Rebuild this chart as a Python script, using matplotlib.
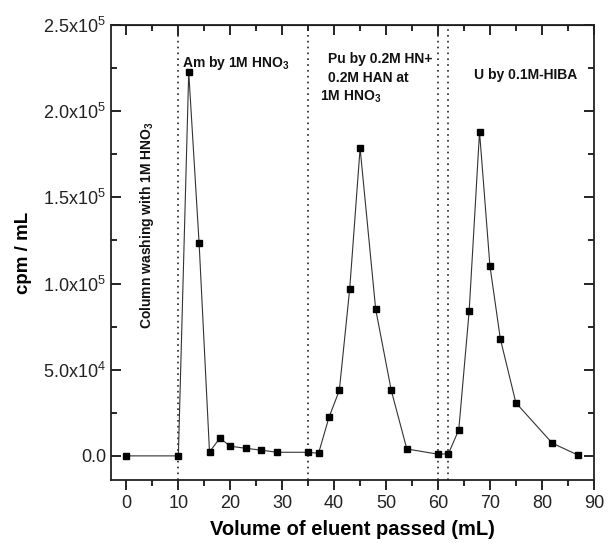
import matplotlib
matplotlib.use("Agg")
import matplotlib.pyplot as plt
from matplotlib.ticker import MultipleLocator, FuncFormatter

plt.rcParams['font.family'] = ['Liberation Sans', 'DejaVu Sans']
plt.rcParams['mathtext.default'] = 'regular'

# eluent volume (mL) and activity (cpm/mL)
volume = [0, 10, 12, 14, 16, 18, 20, 23, 26, 29, 35, 37, 39, 41, 43, 45, 48, 51, 54,
          60, 62, 64, 66, 68, 70, 72, 75, 82, 87]
cpm = [0, 0, 222700, 123300, 2300, 10300, 5600, 4400, 3300, 2100, 2100, 1500, 22300,
       38000, 96900, 178500, 85100, 38000, 4000, 1000, 1200, 15100, 83900, 188000,
       110300, 68000, 30800, 7400, 400]

# stage boundaries
boundaries = [10, 35, 60, 62]

fig = plt.figure(figsize=(6.09, 5.43), dpi=100)
ax = fig.add_axes([0.182, 0.116, 0.793, 0.838])

for b in boundaries:
    ax.axvline(b, color='#222222', linestyle=(0, (1, 2.5)), linewidth=1.2, zorder=1)

ax.plot(volume, cpm, color='#333333', linewidth=0.8, marker='s', markersize=4.5,
        markerfacecolor='black', markeredgecolor='black', zorder=3)

ax.set_xlim(-3, 90)
ax.set_ylim(-14000, 250000)

ax.xaxis.set_major_locator(MultipleLocator(10))
ax.xaxis.set_minor_locator(MultipleLocator(5))
ax.yaxis.set_major_locator(MultipleLocator(50000))
ax.yaxis.set_minor_locator(MultipleLocator(25000))


def yfmt(v, pos):
    if v == 0:
        return '0.0'
    exp = len(str(int(abs(v)))) - 1
    return '%.1fx10$^{%d}$' % (v / 10 ** exp, exp)


ax.yaxis.set_major_formatter(FuncFormatter(yfmt))

ax.tick_params(axis='both', which='both', top=True, right=True, labelsize=13,
               labelcolor='#222222', width=1.2)
ax.tick_params(axis='x', which='both', direction='out', top=False)
ax.tick_params(axis='y', which='both', direction='in')
ax.tick_params(which='major', length=7)
ax.tick_params(which='minor', length=4)
# top ticks point inward
ax2 = ax.secondary_xaxis('top')
ax2.xaxis.set_major_locator(MultipleLocator(10))
ax2.xaxis.set_minor_locator(MultipleLocator(5))
ax2.tick_params(which='both', direction='in', labeltop=False, width=1.2)
ax2.tick_params(which='major', length=7)
ax2.tick_params(which='minor', length=4)

for s in ax.spines.values():
    s.set_linewidth(1.3)
    s.set_color('#222222')

ax.set_xlabel('Volume of eluent passed (mL)', fontsize=14.5, fontweight='bold', labelpad=6)
ax.set_ylabel('cpm / mL', fontsize=13.5, fontweight='bold', labelpad=8)

ann = dict(fontsize=10, fontweight='bold', color='#111111')
ax.text(10.8, 225600, 'Am by 1M HNO$_3$', ha='left', va='baseline', **ann)
ax.text(38.8, 227900, 'Pu by 0.2M HN+', ha='left', va='baseline', **ann)
ax.text(38.8, 216900, '0.2M HAN at', ha='left', va='baseline', **ann)
ax.text(37.3, 206400, '1M HNO$_3$', ha='left', va='baseline', **ann)
ax.text(66.9, 218600, 'U by 0.1M-HIBA', ha='left', va='baseline', **ann)
ax.text(4.0, 73800, 'Column washing with 1M HNO$_3$', rotation=90, ha='center',
        va='bottom', **ann)

fig.savefig('out.png', dpi=100)
